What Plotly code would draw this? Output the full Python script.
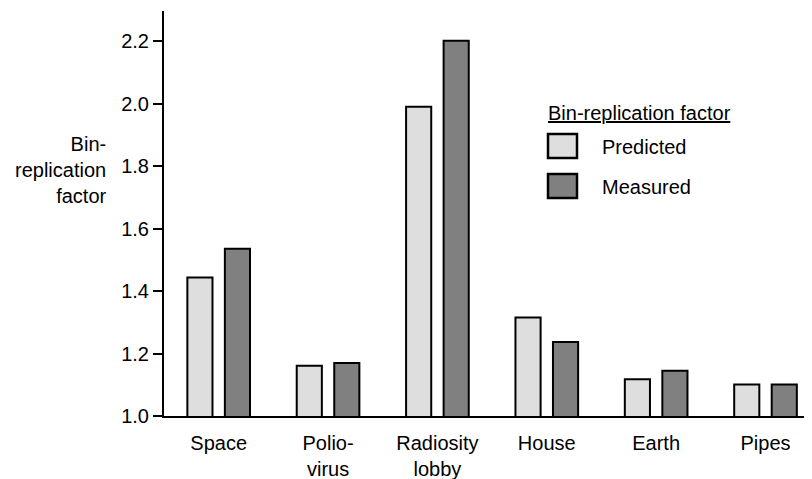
import plotly.graph_objects as go

categories = ["Space", "Polio-<br>virus", "Radiosity<br>lobby", "House", "Earth", "Pipes"]
predicted = [1.443, 1.161, 1.990, 1.315, 1.118, 1.101]
measured = [1.535, 1.170, 2.201, 1.237, 1.145, 1.101]
y_ticks = [1.0, 1.2, 1.4, 1.6, 1.8, 2.0, 2.2]
y_tick_labels = ["1.0", "1.2", "1.4", "1.6", "1.8", "2.0", "2.2"]

FONT = "Liberation Sans, Arial, sans-serif"
FS = 20

# the page body adds an 8px offset; figure coordinates are page coords - 8
OFF = 8
W, H = 812 - OFF, 479 - OFF
L, R, T, B = 164 - OFF, 812 - OFF, 11 - OFF, 416 - OFF

fig = go.Figure()
fig.add_trace(go.Bar(x=categories, y=predicted, name="Predicted",
                     marker=dict(color="#dedede", line=dict(color="black", width=2))))
fig.add_trace(go.Bar(x=categories, y=measured, name="Measured",
                     marker=dict(color="#808080", line=dict(color="black", width=2))))

fig.update_layout(
    width=W, height=H,
    margin=dict(l=L, r=W - R, t=T, b=H - B, pad=0),
    paper_bgcolor="white", plot_bgcolor="white",
    barmode="group", bargap=0.314, bargroupgap=0.33,
    showlegend=False,
    font=dict(family=FONT, size=FS, color="black"),
)
fig.update_xaxes(
    type="category", range=[-0.5, 5.425],
    showline=True, linecolor="black", linewidth=2,
    ticks="", showgrid=False, zeroline=False,
    ticklabelstandoff=8, automargin=False,
    tickfont=dict(family=FONT, size=FS, color="black"),
)
fig.update_yaxes(
    range=[1.0, 2.296],
    tickvals=y_ticks, ticktext=y_tick_labels,
    showline=True, linecolor="black", linewidth=2,
    ticks="outside", ticklen=9, tickwidth=2, tickcolor="black",
    showgrid=False, zeroline=False, automargin=False,
    tickfont=dict(family=FONT, size=FS, color="black"),
)

PW, PH = R - L, B - T

def px_x(p):
    return (p - OFF - L) / PW

def px_y(p):
    return (B - (p - OFF)) / PH

# y-axis title (horizontal, right aligned)
fig.add_annotation(
    text="Bin-<br>replication<br>factor", xref="paper", yref="paper",
    x=px_x(109), y=px_y(170), xanchor="right", yanchor="middle",
    align="right", showarrow=False,
    font=dict(family=FONT, size=FS, color="black"),
)

# legend drawn manually
fig.add_annotation(
    text="<u>Bin-replication factor</u>", xref="paper", yref="paper",
    x=px_x(546), y=px_y(113), xanchor="left", yanchor="middle",
    showarrow=False, font=dict(family=FONT, size=FS, color="black"),
)
for name, color, yc in [("Predicted", "#dedede", 146), ("Measured", "#808080", 186)]:
    fig.add_shape(type="rect", xref="paper", yref="paper",
                  x0=px_x(548), x1=px_x(577), y0=px_y(yc - 12), y1=px_y(yc + 12),
                  fillcolor=color, line=dict(color="black", width=2.5))
    fig.add_annotation(
        text=name, xref="paper", yref="paper",
        x=px_x(600), y=px_y(yc + 1), xanchor="left", yanchor="middle",
        showarrow=False, font=dict(family=FONT, size=FS, color="black"),
    )

fig.write_html("out.html")
